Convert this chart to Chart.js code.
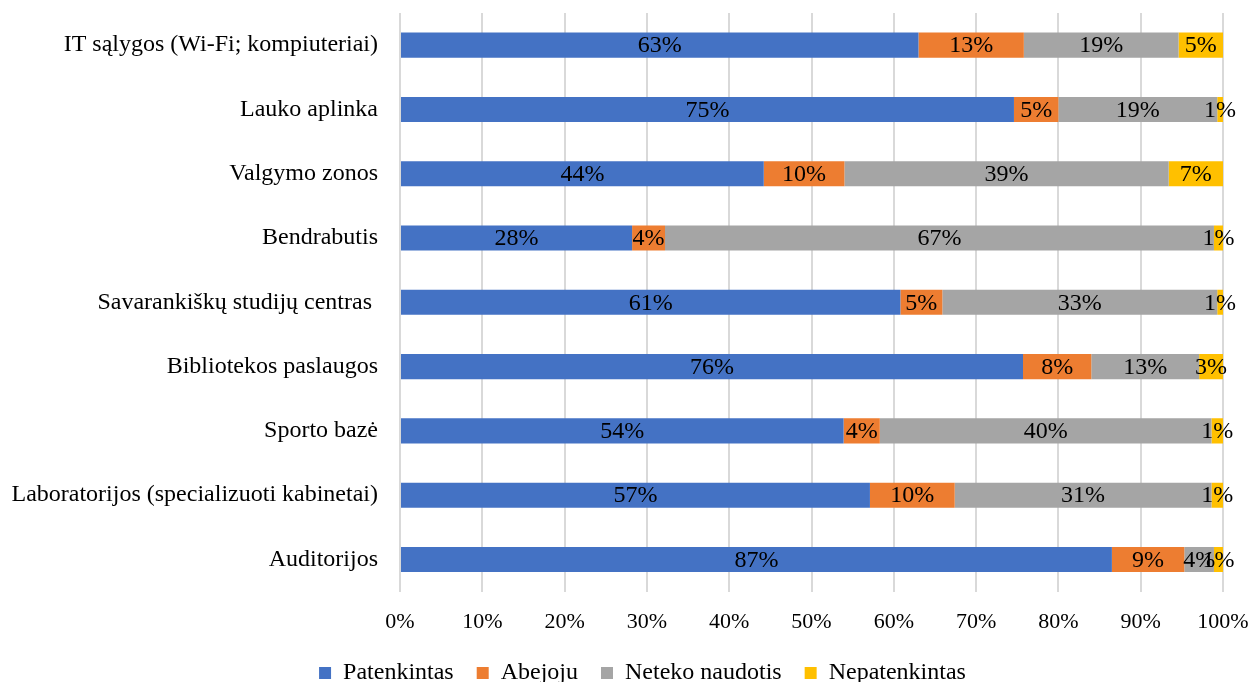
<!DOCTYPE html>
<html>
<head>
<meta charset="utf-8">
<script src="https://cdn.jsdelivr.net/npm/chart.js@4.4.0/dist/chart.umd.min.js"></script>
<style>
  html, body { margin: 0; padding: 0; background: #fff; }
  #wrap { width: 1251px; height: 682px; }
</style>
</head>
<body>
<div id="wrap"><canvas id="facilitiesChart" width="1251" height="682"></canvas></div>
<script>
// Categories, top to bottom
const categories = [
    'IT sąlygos (Wi-Fi; kompiuteriai)',
    'Lauko aplinka',
    'Valgymo zonos',
    'Bendrabutis',
    'Savarankiškų studijų centras ',
    'Bibliotekos paslaugos',
    'Sporto bazė',
    'Laboratorijos (specializuoti kabinetai)',
    'Auditorijos'
];

// Shares in percent
const patenkintas    = [63.0, 74.6, 44.2, 28.2, 60.8, 75.7, 53.9, 57.1, 86.5];
const abejoju        = [12.8,  5.4,  9.8,  4.0,  5.1,  8.3,  4.4, 10.3,  8.8];
const netekoNaudotis = [18.8, 19.3, 39.4, 66.7, 33.4, 13.1, 40.3, 31.2,  3.6];
const nepatenkintas  = [ 5.4,  0.7,  6.6,  1.1,  0.7,  2.9,  1.4,  1.4,  1.1];

const seriesNames = ['Patenkintas', 'Abejoju', 'Neteko naudotis', 'Nepatenkintas'];
const xTicks = [0, 10, 20, 30, 40, 50, 60, 70, 80, 90, 100];

const colors = ['#4472C4', '#ED7D31', '#A5A5A5', '#FFC000'];
const FONT = '"Liberation Serif", "Times New Roman", serif';

// draws the rounded percent in the middle of every segment
const segmentLabels = {
    id: 'segmentLabels',
    afterDatasetsDraw(chart) {
        const ctx = chart.ctx;
        ctx.save();
        ctx.font = '24px ' + FONT;
        ctx.fillStyle = '#000';
        ctx.textAlign = 'center';
        ctx.textBaseline = 'middle';
        chart.data.datasets.forEach((ds, i) => {
            const meta = chart.getDatasetMeta(i);
            meta.data.forEach((bar, j) => {
                const v = ds.data[j];
                const cx = (bar.x + bar.base) / 2;
                ctx.fillText(Math.round(v) + '%', cx, bar.y + 1);
            });
        });
        ctx.restore();
    }
};

// legend in the original sits a little right of centre
const legendShift = {
    id: 'legendShift',
    afterLayout(chart) {
        chart.legend.left += 31;
        chart.legend.right += 31;
    }
};

const seriesData = [patenkintas, abejoju, netekoNaudotis, nepatenkintas];

const ctx = document.getElementById('facilitiesChart').getContext('2d');
new Chart(ctx, {
    type: 'bar',
    data: {
        labels: categories,
        datasets: seriesNames.map((name, i) => ({
            label: name,
            data: seriesData[i],
            backgroundColor: colors[i],
            borderWidth: 0,
            barPercentage: 0.39,
            categoryPercentage: 1.0
        }))
    },
    options: {
        indexAxis: 'y',
        responsive: false,
        animation: false,
        layout: { padding: { top: 13, right: 28, left: 0, bottom: -13 } },
        plugins: {
            legend: {
                position: 'bottom',
                labels: {
                    boxWidth: 12,
                    boxHeight: 12,
                    padding: 23,
                    color: '#000',
                    font: { family: FONT, size: 24 }
                }
            },
            tooltip: { enabled: false }
        },
        scales: {
            x: {
                stacked: true,
                min: 0,
                max: 100,
                afterBuildTicks: axis => { axis.ticks = xTicks.map(v => ({ value: v })); },
                afterFit: scale => {
                    scale.paddingLeft = 0;
                    scale.paddingRight = 0;
                    scale.height -= 14;
                },
                ticks: {
                    callback: v => v + '%',
                    color: '#000',
                    padding: 17,
                    font: { family: FONT, size: 22 }
                },
                grid: { color: '#d9d9d9', lineWidth: 2, drawTicks: false },
                border: { display: false }
            },
            y: {
                stacked: true,
                afterFit: scale => {
                    scale.width = 400;
                    scale.paddingTop = 0;
                    scale.paddingBottom = 0;
                },
                ticks: {
                    color: '#000',
                    padding: 22,
                    font: { family: FONT, size: 24 }
                },
                grid: { display: false, drawTicks: false },
                border: { display: false }
            }
        }
    },
    plugins: [segmentLabels, legendShift]
});
</script>
</body>
</html>
